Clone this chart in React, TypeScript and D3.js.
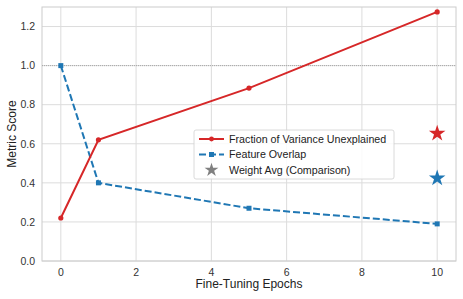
import * as d3 from "d3";
import { useEffect, useRef } from "react";

const W = 463;
const H = 299;
const margin = { top: 7, right: 7, bottom: 38, left: 42 };

// data
const epochs = [0, 1, 5, 10];
const fvu = [0.22, 0.62, 0.885, 1.275];
const overlap = [1.0, 0.4, 0.27, 0.19];
const weightAvgEpoch = 10;
const weightAvgFvu = 0.653;
const weightAvgOverlap = 0.424;
const xTicks = [0, 2, 4, 6, 8, 10];
const yTicks = [0, 0.2, 0.4, 0.6, 0.8, 1.0, 1.2];

const RED = "#d62728";
const BLUE = "#1f77b4";
const FONT = "'Liberation Sans', Arial, sans-serif";

function drawChart(svgEl: SVGSVGElement) {
  const svg = d3.select(svgEl);
  svg.selectAll("*").remove();

  const x = d3
    .scaleLinear()
    .domain([-0.5, 10.5])
    .range([margin.left, W - margin.right]);
  const y = d3
    .scaleLinear()
    .domain([0, 1.3])
    .range([H - margin.bottom, margin.top]);

  // grid
  const grid = svg.append("g");
  grid
    .selectAll("line.vx")
    .data(xTicks)
    .enter()
    .append("line")
    .attr("x1", (d) => x(d))
    .attr("x2", (d) => x(d))
    .attr("y1", y(0))
    .attr("y2", y(1.3))
    .attr("stroke", "#dcdcdc")
    .attr("stroke-width", 1);
  grid
    .selectAll("line.hy")
    .data(yTicks)
    .enter()
    .append("line")
    .attr("x1", x(-0.5))
    .attr("x2", x(10.5))
    .attr("y1", (d) => y(d))
    .attr("y2", (d) => y(d))
    .attr("stroke", "#dcdcdc")
    .attr("stroke-width", 1);

  // spines
  svg
    .append("rect")
    .attr("x", x(-0.5))
    .attr("y", y(1.3))
    .attr("width", x(10.5) - x(-0.5))
    .attr("height", y(0) - y(1.3))
    .attr("fill", "none")
    .attr("stroke", "#cccccc")
    .attr("stroke-width", 1);

  // tick labels
  svg
    .selectAll("text.xt")
    .data(xTicks)
    .enter()
    .append("text")
    .attr("x", (d) => x(d))
    .attr("y", y(0) + 15)
    .attr("text-anchor", "middle")
    .attr("font-size", 10.5)
    .attr("font-family", FONT)
    .attr("fill", "#333")
    .text((d) => d3.format("d")(d));
  svg
    .selectAll("text.yt")
    .data(yTicks)
    .enter()
    .append("text")
    .attr("x", x(-0.5) - 7)
    .attr("y", (d) => y(d) + 3.8)
    .attr("text-anchor", "end")
    .attr("font-size", 10.5)
    .attr("font-family", FONT)
    .attr("fill", "#333")
    .text((d) => d3.format(".1f")(d));

  // axis titles
  svg
    .append("text")
    .attr("x", (x(-0.5) + x(10.5)) / 2)
    .attr("y", H - 11)
    .attr("text-anchor", "middle")
    .attr("font-size", 12)
    .attr("font-family", FONT)
    .attr("fill", "#222")
    .text("Fine-Tuning Epochs");
  svg
    .append("text")
    .attr(
      "transform",
      `translate(16,${(y(0) + y(1.3)) / 2}) rotate(-90)`
    )
    .attr("text-anchor", "middle")
    .attr("font-size", 12)
    .attr("font-family", FONT)
    .attr("fill", "#222")
    .text("Metric Score");

  // reference line at 1.0
  svg
    .append("line")
    .attr("x1", x(-0.5))
    .attr("x2", x(10.5))
    .attr("y1", y(1))
    .attr("y2", y(1))
    .attr("stroke", "#999")
    .attr("stroke-width", 0.8)
    .attr("stroke-dasharray", "1,1");

  const line = d3
    .line<number>()
    .x((_, i) => x(epochs[i]))
    .y((d) => y(d));

  // feature overlap (dashed)
  svg
    .append("path")
    .attr("d", line(overlap))
    .attr("fill", "none")
    .attr("stroke", BLUE)
    .attr("stroke-width", 2)
    .attr("stroke-dasharray", "7,3");
  svg
    .selectAll("rect.ov")
    .data(overlap)
    .enter()
    .append("rect")
    .attr("x", (_, i) => x(epochs[i]) - 2.5)
    .attr("y", (d) => y(d) - 2.5)
    .attr("width", 5)
    .attr("height", 5)
    .attr("fill", BLUE);

  // FVU
  svg
    .append("path")
    .attr("d", line(fvu))
    .attr("fill", "none")
    .attr("stroke", RED)
    .attr("stroke-width", 2);
  svg
    .selectAll("circle.fvu")
    .data(fvu)
    .enter()
    .append("circle")
    .attr("cx", (_, i) => x(epochs[i]))
    .attr("cy", (d) => y(d))
    .attr("r", 2.6)
    .attr("fill", RED);

  // weight-average stars
  const star = d3.symbol().type(d3.symbolStar).size(85);
  svg
    .append("path")
    .attr("d", star()!)
    .attr("transform", `translate(${x(weightAvgEpoch)},${y(weightAvgFvu)})`)
    .attr("fill", RED);
  svg
    .append("path")
    .attr("d", star()!)
    .attr("transform", `translate(${x(weightAvgEpoch)},${y(weightAvgOverlap)})`)
    .attr("fill", BLUE);

  // legend
  const lg = svg.append("g").attr("transform", "translate(194,130)");
  lg.append("rect")
    .attr("width", 200)
    .attr("height", 49)
    .attr("rx", 2)
    .attr("fill", "white")
    .attr("fill-opacity", 0.85)
    .attr("stroke", "#d0d0d0")
    .attr("stroke-width", 0.8);
  const rows = [
    { label: "Fraction of Variance Unexplained", kind: "fvu" },
    { label: "Feature Overlap", kind: "ov" },
    { label: "Weight Avg (Comparison)", kind: "star" },
  ];
  rows.forEach((r, i) => {
    const cy = 9 + i * 15.5;
    if (r.kind === "fvu") {
      lg.append("line")
        .attr("x1", 5)
        .attr("x2", 30)
        .attr("y1", cy)
        .attr("y2", cy)
        .attr("stroke", RED)
        .attr("stroke-width", 2);
      lg.append("circle").attr("cx", 17.5).attr("cy", cy).attr("r", 2.4).attr("fill", RED);
    } else if (r.kind === "ov") {
      lg.append("line")
        .attr("x1", 5)
        .attr("x2", 30)
        .attr("y1", cy)
        .attr("y2", cy)
        .attr("stroke", BLUE)
        .attr("stroke-width", 2)
        .attr("stroke-dasharray", "7,3");
      lg.append("rect")
        .attr("x", 15)
        .attr("y", cy - 2.5)
        .attr("width", 5)
        .attr("height", 5)
        .attr("fill", BLUE);
    } else {
      lg.append("path")
        .attr("d", d3.symbol().type(d3.symbolStar).size(60)()!)
        .attr("transform", `translate(17.5,${cy})`)
        .attr("fill", "#808080");
    }
    lg.append("text")
      .attr("x", 35)
      .attr("y", cy + 3.8)
      .attr("font-size", 10.7)
      .attr("font-family", FONT)
      .attr("fill", "#222")
      .text(r.label);
  });
}

export default function App() {
  const ref = useRef<SVGSVGElement>(null);
  useEffect(() => {
    if (ref.current) drawChart(ref.current);
  }, []);
  return (
    <div style={{ position: "absolute", left: 0, top: 0 }}>
      <svg ref={ref} width={W} height={H} style={{ display: "block", background: "white" }}></svg>
    </div>
  );
}
